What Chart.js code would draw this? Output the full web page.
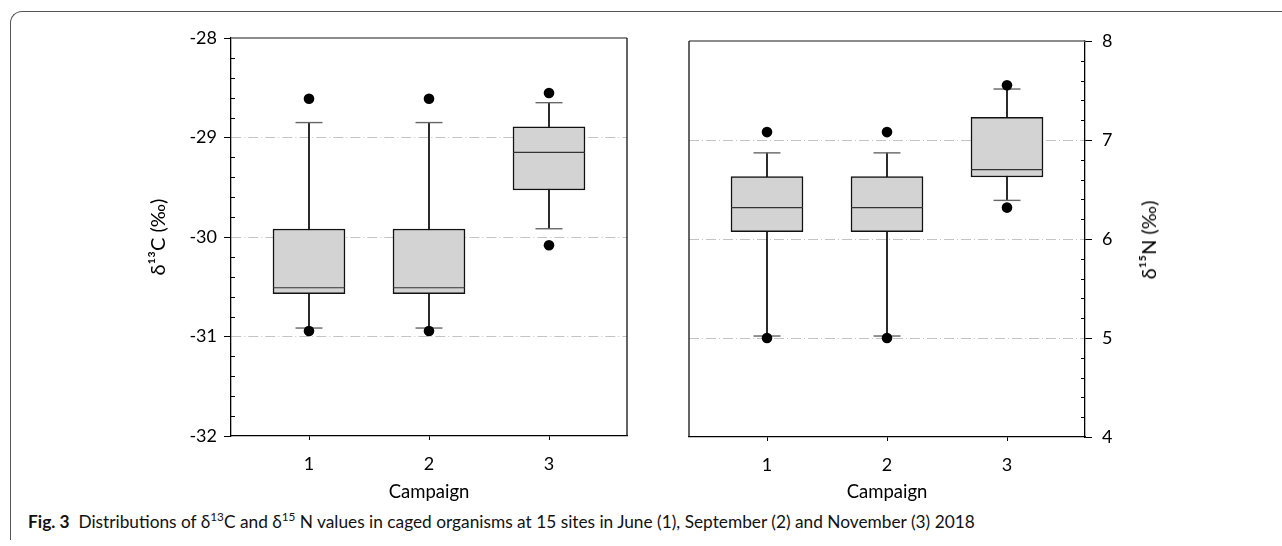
<!DOCTYPE html>
<html>
<head>
<meta charset="utf-8">
<script src="https://cdn.jsdelivr.net/npm/chart.js@4.4.1/dist/chart.umd.min.js"></script>
<style>
  body { margin: 0; width: 1282px; height: 546px; background: #fff; position: relative; overflow: hidden; font-family: Lato, sans-serif; }
  #frame { position: absolute; left: 10px; top: 11px; width: 1300px; height: 528px; border-left: 1.5px solid #555; border-top: 1.5px solid #555; border-top-left-radius: 12px; }
  .box { position: absolute; top: 0; }
  #ytitle2 { position: absolute; left: 1148px; top: 240px; transform: translate(-50%, -50%) rotate(-90deg); white-space: nowrap; font-size: 20px; color: #000; }
  #cap { position: absolute; left: 28px; top: 513px; font-size: 17.3px; line-height: 18px; white-space: nowrap; color: #111; }
  #cap sup { font-size: 0.68em; line-height: 0; }
</style>
</head>
<body>
<div id="frame"></div>
<div class="box" style="left:0"><canvas id="chartC" width="650" height="505"></canvas></div>
<div class="box" style="left:660px"><canvas id="chartN" width="622" height="505"></canvas></div>
<div id="ytitle2">δ¹⁵N (‰)</div>
<div id="cap"><b>Fig. 3</b>&nbsp; Distributions of δ<sup>13</sup>C and δ<sup>15</sup> N values in caged organisms at 15 sites in June (1), September (2) and November (3) 2018</div>
<script>
const campaigns = [1, 2, 3];

// δ13C (left panel)
const cTicks = [-32, -31, -30, -29, -28];
const cWhiskLo = [-30.915, -30.915, -29.917];
const cQ1 = [-30.57, -30.57, -29.528];
const cMedian = [-30.51, -30.51, -29.149];
const cQ3 = [-29.92, -29.92, -28.894];
const cWhiskHi = [-28.85, -28.85, -28.65];
const cOutLo = [-30.945, -30.945, -30.083];
const cOutHi = [-28.61, -28.61, -28.553];

// δ15N (right panel)
const nTicks = [4, 5, 6, 7, 8];
const nWhiskLo = [5.02, 5.02, 6.39];
const nQ1 = [6.075, 6.075, 6.626];
const nMedian = [6.317, 6.317, 6.70];
const nQ3 = [6.63, 6.63, 7.23];
const nWhiskHi = [6.87, 6.87, 7.515];
const nOutLo = [5.0, 5.0, 6.317];
const nOutHi = [7.08, 7.08, 7.553];

Chart.defaults.font.family = 'Lato';
Chart.defaults.color = '#000';

const pts = (arr) => campaigns.map((c, i) => ({x: c, y: arr[i]}));
const spans = (a, b) => campaigns.map((c, i) => ({x: c, y: [a[i], b[i]]}));

function boxSets(lo, q1, med, q3, hi, outLo, outHi) {
    return [
        { // whisker line
            type: 'bar', data: spans(lo, hi), barThickness: 1,
            backgroundColor: '#000', grouped: false, order: 4
        },
        { // box
            type: 'bar', data: spans(q1, q3), barThickness: 72,
            backgroundColor: '#d2d3d2', borderColor: '#111', borderWidth: 1.5,
            borderSkipped: false, grouped: false, order: 3
        },
        { // median
            type: 'scatter', data: pts(med), pointStyle: 'line', pointRadius: 36,
            borderColor: '#333', borderWidth: 1.2, order: 2
        },
        { // caps
            type: 'scatter', data: pts(lo).concat(pts(hi)), pointStyle: 'line', pointRadius: 13.5,
            borderColor: '#666', borderWidth: 1.4, order: 1
        },
        { // outliers
            type: 'scatter', data: pts(outLo).concat(pts(outHi)), pointStyle: 'circle', pointRadius: 5.3,
            backgroundColor: '#000', borderColor: '#000', borderWidth: 0, order: 0
        }
    ];
}

// minor ticks drawn inward on the value axis
const minorTicks = {
    id: 'minorTicks',
    afterDraw(chart, args, opts) {
        const s = chart.scales.y;
        const {ctx, chartArea} = chart;
        const x0 = opts.side === 'left' ? chartArea.left : chartArea.right;
        const dir = opts.side === 'left' ? 1 : -1;
        ctx.save();
        ctx.strokeStyle = '#000';
        ctx.lineWidth = 1;
        for (let k = 1; k < (s.max - s.min) / 0.2; k++) {
            if (k % 5 === 0) continue;
            const py = Math.round(s.getPixelForValue(s.min + k * 0.2)) + 0.5;
            ctx.beginPath();
            ctx.moveTo(x0, py);
            ctx.lineTo(x0 + dir * 4, py);
            ctx.stroke();
        }
        ctx.restore();
    }
};

// top line and the open side of the plot box
const plotFrame = {
    id: 'plotFrame',
    afterDraw(chart, args, opts) {
        const {ctx, chartArea: {left, top, right, bottom}} = chart;
        ctx.save();
        ctx.lineWidth = 1.5;
        ctx.strokeStyle = '#666';
        ctx.beginPath();
        ctx.moveTo(left, top);
        ctx.lineTo(right, top);
        ctx.stroke();
        ctx.strokeStyle = '#111';
        ctx.lineWidth = 1.3;
        const sx = opts.side === 'left' ? left : right;
        ctx.beginPath();
        ctx.moveTo(sx, top);
        ctx.lineTo(sx, bottom);
        ctx.stroke();
        ctx.restore();
    }
};

function noPad(s) {
    s.paddingLeft = 0;
    s.paddingRight = 0;
    s.paddingTop = 0;
    s.paddingBottom = 0;
}

function makeChart(id, sets, ticks, cfg) {
    return new Chart(document.getElementById(id), {
        type: 'bar',
        data: {datasets: sets},
        options: {
            responsive: false,
            animation: false,
            layout: {padding: cfg.padding, autoPadding: false},
            plugins: {
                legend: {display: false},
                tooltip: {enabled: false},
                minorTicks: {side: cfg.yPos},
                plotFrame: {side: cfg.yPos === 'left' ? 'right' : 'left'}
            },
            scales: {
                x: {
                    type: 'linear', min: 0.35, max: 3.65, offset: false,
                    afterBuildTicks: s => { s.ticks = campaigns.map(v => ({value: v})); },
                    afterFit: s => { s.height = cfg.xHeight; noPad(s); },
                    grid: {drawOnChartArea: false, offset: false, tickLength: 4, tickColor: '#000'},
                    border: {color: '#000', width: 1.3},
                    ticks: {color: '#000', padding: 13, font: {size: 18}},
                    title: {display: true, text: 'Campaign', color: '#000', font: {size: 18.5}, padding: {top: 0, bottom: 2}}
                },
                y: {
                    type: 'linear', position: cfg.yPos, beginAtZero: false,
                    min: ticks[0], max: ticks[ticks.length - 1],
                    afterBuildTicks: s => { s.ticks = ticks.map(v => ({value: v})); },
                    afterFit: s => { s.width = cfg.yWidth; noPad(s); },
                    grid: {
                        color: c => (c.tick && c.tick.value > ticks[0] && c.tick.value < ticks[ticks.length - 1]) ? '#c4c4c4' : 'transparent',
                        tickColor: '#000',
                        tickLength: 7,
                        lineWidth: 1
                    },
                    border: {color: '#000', width: 1.3, dash: [10, 3, 1, 3]},
                    ticks: {color: '#000', padding: cfg.yPad, font: {size: 18}},
                    title: {display: !!cfg.yTitle, text: cfg.yTitle, color: '#000', font: {size: 20}}
                }
            }
        },
        plugins: [minorTicks, plotFrame]
    });
}

makeChart('chartC',
    boxSets(cWhiskLo, cQ1, cMedian, cQ3, cWhiskHi, cOutLo, cOutHi),
    cTicks,
    {padding: {left: 143, top: 38, right: 23, bottom: 0}, yPos: 'left', yWidth: 88, yPad: 7, xHeight: 69, yTitle: 'δ¹³C (‰)'});

makeChart('chartN',
    boxSets(nWhiskLo, nQ1, nMedian, nQ3, nWhiskHi, nOutLo, nOutHi),
    nTicks,
    {padding: {left: 29, top: 41, right: 157, bottom: 0}, yPos: 'right', yWidth: 40, yPad: 10, xHeight: 68, yTitle: ''});
</script>
</body>
</html>
